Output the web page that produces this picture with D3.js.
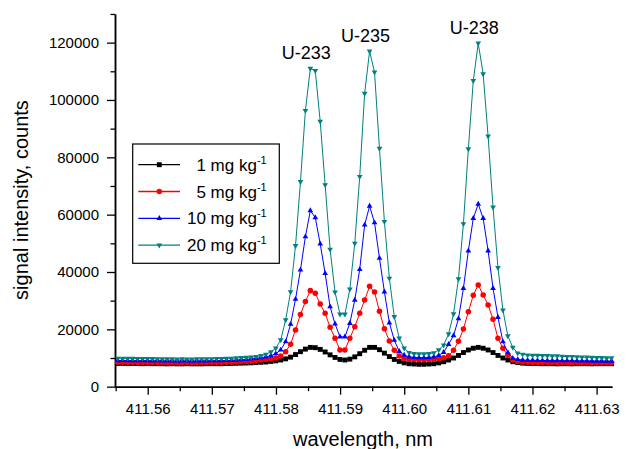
<!DOCTYPE html>
<html><head><meta charset="utf-8">
<script src="https://cdn.jsdelivr.net/npm/d3@7"></script>
<style>
body{margin:0;background:#fff}
svg{display:block}
text{font-family:"Liberation Sans",Arial,Helvetica,sans-serif;fill:#000}
</style>
</head><body>
<svg id="chart" width="630" height="449"></svg>
<script>
// wavelength grid (nm)
const wavelengths = [
411.55533,411.55610,411.55687,411.55764,411.55841,411.55918,411.55995,411.56072,411.56149,411.56226,
411.56303,411.56380,411.56457,411.56534,411.56611,411.56688,411.56765,411.56842,411.56919,411.56996,
411.57073,411.57150,411.57227,411.57304,411.57381,411.57458,411.57535,411.57612,411.57689,411.57766,
411.57843,411.57920,411.57997,411.58074,411.58151,411.58228,411.58305,411.58382,411.58459,411.58536,
411.58613,411.58690,411.58767,411.58844,411.58921,411.58998,411.59075,411.59152,411.59229,411.59306,
411.59383,411.59460,411.59537,411.59614,411.59691,411.59768,411.59845,411.59922,411.59999,411.60076,
411.60153,411.60230,411.60307,411.60384,411.60461,411.60538,411.60615,411.60692,411.60769,411.60846,
411.60923,411.61000,411.61077,411.61154,411.61231,411.61308,411.61385,411.61462,411.61539,411.61616,
411.61693,411.61770,411.61847,411.61924,411.62001,411.62078,411.62155,411.62232,411.62309,411.62386,
411.62463,411.62540,411.62617,411.62694,411.62771,411.62848,411.62925,411.63002,411.63079,411.63156,
411.63233];

const conc1 = [
8100,8100,8050,8100,8050,8000,8050,8000,8000,8000,
7950,8000,7950,7950,8000,7950,7950,7950,8000,8000,
8000,8000,8050,8100,8150,8200,8250,8300,8400,8500,
8600,8800,9000,9300,9700,10300,11200,12200,13100,13700,
13600,13000,12100,11100,10200,9500,9300,9600,10400,11500,
12700,13700,13700,12900,11700,10500,9500,8800,8300,8000,
7900,7800,7800,7900,8000,8300,8700,9300,10000,10900,
11900,12800,13400,13700,13400,12800,11900,10900,10000,9300,
8700,8400,8200,8100,8050,8050,8000,8000,8000,7950,
8000,8000,7950,8000,8000,8000,7950,8000,8000,8000,
8000];

const conc5 = [
8500,8500,8450,8500,8450,8400,8450,8400,8400,8400,
8350,8400,8350,8350,8400,8350,8350,8400,8400,8400,
8450,8450,8500,8550,8600,8700,8800,8900,9100,9300,
9500,9700,10000,10700,12200,14800,19800,25200,29700,33500,
32600,28800,25600,20700,16900,12800,12800,16900,20900,25600,
30200,35000,33000,26300,20200,15900,12700,10700,9900,9600,
9500,9400,9400,9500,9600,9800,10100,10800,12700,15800,
20100,26100,31900,35500,32000,28500,23500,16900,13400,11000,
9300,8800,8600,8500,8450,8450,8400,8400,8400,8350,
8400,8350,8350,8350,8300,8350,8300,8300,8300,8300,
8300];

const conc10 = [
9100,9150,9100,9100,9050,9050,9100,9000,9050,9000,
9000,9000,8950,9000,9000,8950,9000,9000,9000,9050,
9050,9100,9150,9200,9300,9400,9500,9700,9900,10100,
10400,10800,11500,12800,15700,21800,30500,40700,52300,61400,
59000,49800,39500,27900,21900,17400,17400,22100,30200,40900,
56400,63000,57200,44800,33100,22300,16200,12300,11000,10400,
10200,10100,10100,10200,10400,10900,12000,14800,17800,23700,
34300,47400,58700,63700,58700,47400,34300,24200,15700,11900,
9900,9500,9300,9200,9200,9150,9150,9100,9100,9100,
9050,9050,9050,9000,9000,9000,8950,8950,8950,8900,
8900];

const conc20 = [
9900,9900,9850,9850,9800,9800,9750,9750,9700,9700,
9650,9650,9600,9650,9600,9600,9650,9650,9700,9700,
9750,9800,9850,9900,10000,10100,10200,10300,10500,10800,
11300,12100,13400,16300,23300,33100,49200,71500,96300,111000,
110200,92500,70400,47900,33000,25300,25300,34000,50000,73300,
102300,117000,109700,83100,57600,37800,24400,16900,13400,11900,
11500,11400,11400,11500,11800,12800,14500,18400,25400,37600,
56800,82900,106700,119800,109100,87400,62600,41500,26700,17700,
13700,11700,11300,11000,10900,10900,10800,10800,10700,10700,
10600,10500,10500,10400,10300,10300,10200,10100,10100,10000,
10000];

const seriesLabels = ["1 mg kg", "5 mg kg", "10 mg kg", "20 mg kg"];
const seriesSup = "-1";
const xMajorTicks = [411.56,411.57,411.58,411.59,411.60,411.61,411.62,411.63];
const xMinorTicks = [411.555,411.565,411.575,411.585,411.595,411.605,411.615,411.625];
const yMajorTicks = [0,20000,40000,60000,80000,100000,120000];
const yMinorTicks = [10000,30000,50000,70000,90000,110000,130000];
const peakNames = ["U-233","U-235","U-238"];
const peakNear = [411.5855,411.5946,411.6115];

const seriesData = [conc1, conc5, conc10, conc20];
const colors = ["#000000","#ff0000","#0000ff","#008080"];
const symbols = [
  d3.symbol().type(d3.symbolSquare).size(24),
  d3.symbol().type(d3.symbolCircle).size(24),
  d3.symbol().type(d3.symbolTriangle).size(14),
  d3.symbol().type(d3.symbolTriangle).size(14)
];
const rotations = [0,0,0,180];
const lineWidths = [1.5,1,1,1];

const svg = d3.select("#chart");
const x = d3.scaleLinear().domain([411.5549, 411.6324]).range([115, 612]);
const y = d3.scaleLinear().domain([0, 130000]).range([386.67, 13.96]);

// axes
const axisStyle = g => {
  g.select(".domain").attr("stroke","#000").attr("stroke-width",1.5);
  g.selectAll(".tick line").attr("stroke","#000").attr("stroke-width",1.3);
};
svg.append("g").attr("transform","translate(0,386.67)")
  .call(d3.axisBottom(x).tickValues(xMinorTicks).tickSize(4.5).tickSizeOuter(0).tickFormat(""))
  .call(axisStyle);
svg.append("g").attr("transform","translate(0,386.67)")
  .call(d3.axisBottom(x).tickValues(xMajorTicks).tickSize(8).tickSizeOuter(0).tickPadding(9).tickFormat(d3.format(".2f")))
  .call(axisStyle)
  .call(g => g.selectAll(".tick text").attr("font-size","15px").attr("fill","#000"));
svg.append("g").attr("transform","translate(115,0)")
  .call(d3.axisLeft(y).tickValues(yMinorTicks).tickSize(4.5).tickSizeOuter(0).tickFormat(""))
  .call(axisStyle);
svg.append("g").attr("transform","translate(115,0)")
  .call(d3.axisLeft(y).tickValues(yMajorTicks).tickSize(8).tickSizeOuter(0).tickPadding(8).tickFormat(d3.format("d")))
  .call(axisStyle)
  .call(g => g.selectAll(".tick text").attr("font-size","15px").attr("fill","#000"));

// titles
svg.append("text").attr("x",363).attr("y",446).attr("text-anchor","middle")
  .attr("font-size","20px").text("wavelength, nm");
svg.append("text").attr("transform","translate(28,200) rotate(-90)").attr("text-anchor","middle")
  .attr("font-size","20px").text("signal intensity, counts");

// series
const line = d3.line().x((d,i)=>x(wavelengths[i])).y(d=>y(d));
seriesData.forEach((s,k)=>{
  const g = svg.append("g");
  g.append("path").datum(s).attr("d",line).attr("fill","none")
    .attr("stroke",colors[k]).attr("stroke-width",lineWidths[k]);
  g.selectAll("path.m").data(s).enter().append("path").attr("class","m")
    .attr("d",symbols[k])
    .attr("transform",(d,i)=>`translate(${x(wavelengths[i])},${y(d)}) rotate(${rotations[k]})`)
    .attr("fill",colors[k]);
});

// peak labels
const topSeries = conc20;
peakNames.forEach((name,j)=>{
  let best=-1;
  wavelengths.forEach((w,i)=>{ if(Math.abs(w-peakNear[j])<0.0015 && (best<0||topSeries[i]>topSeries[best])) best=i; });
  svg.append("text").attr("x", x(wavelengths[best]) - 4).attr("y", y(topSeries[best]) - 9.5)
    .attr("text-anchor","middle").attr("font-size","18px").text(name);
});

// legend
const lg = svg.append("g");
lg.append("rect").attr("x",132.7).attr("y",144).attr("width",146.6).attr("height",119.3)
  .attr("fill","#fff").attr("stroke","#000").attr("stroke-width",1.2);
seriesLabels.forEach((lab,k)=>{
  const cy = 164.7 + k*26.8;
  lg.append("line").attr("x1",138.3).attr("x2",180).attr("y1",cy).attr("y2",cy)
    .attr("stroke",colors[k]).attr("stroke-width",1.3);
  lg.append("path").attr("d",symbols[k]).attr("fill",colors[k])
    .attr("transform",`translate(159.3,${cy}) rotate(${rotations[k]})`);
  const t = lg.append("text").attr("x",266.7).attr("y",cy+6).attr("text-anchor","end").attr("font-size","17px");
  t.append("tspan").text(lab);
  t.append("tspan").attr("font-size","11px").attr("dy",-7).text(seriesSup);
});
</script>
</body></html>
